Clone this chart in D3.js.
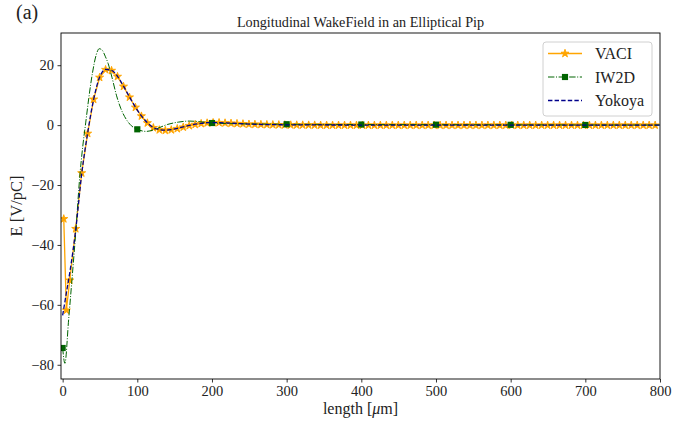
<!DOCTYPE html>
<html>
<head>
<meta charset="utf-8">
<script src="https://cdn.jsdelivr.net/npm/d3@7"></script>
<style>
  body { margin: 0; background: #fff; }
  text { font-family: "Liberation Serif", "Times New Roman", serif; fill: #222; }
</style>
</head>
<body>
<div id="chart"></div>
<script>
var width = 674,
    height = 422;

var margin = {left: 61, right: 14, top: 33, bottom: 43};

// VACI (star markers, solid)
var vaciX = [1.5, 5, 9.5, 17.5, 25.5, 33.5, 41.5, 49.5, 57.5, 65.5,
  73.5, 81.5, 89.5, 97.5, 105.5, 113.5, 121.5, 129.5, 137.5, 145.5,
  153.5, 161.5, 169.5, 177.5, 185.5, 193.5, 201.5, 209.5, 217.5, 225.5,
  233.5, 241.5, 249.5, 257.5, 265.5, 273.5, 281.5, 289.5, 297.5, 305.5,
  313.5, 321.5, 329.5, 337.5, 345.5, 353.5, 361.5, 369.5, 377.5, 385.5,
  393.5, 401.5, 409.5, 417.5, 425.5, 433.5, 441.5, 449.5, 457.5, 465.5,
  473.5, 481.5, 489.5, 497.5, 505.5, 513.5, 521.5, 529.5, 537.5, 545.5,
  553.5, 561.5, 569.5, 577.5, 585.5, 593.5, 601.5, 609.5, 617.5, 625.5,
  633.5, 641.5, 649.5, 657.5, 665.5, 673.5, 681.5, 689.5, 697.5, 705.5,
  713.5, 721.5, 729.5, 737.5, 745.5, 753.5, 761.5, 769.5, 777.5, 785.5,
  793.5];
var vaciY = [-31.3, -61.8, -51.8, -34.6, -16.0, -2.8, 8.6, 15.9, 18.5, 18.2,
  16.2, 12.9, 9.3, 5.9, 3.0, 0.7, -0.9, -1.6, -1.8, -1.6,
  -1.2, -0.7, -0.2, 0.2, 0.5, 0.7, 0.8, 0.8, 0.7, 0.6,
  0.5, 0.4, 0.3, 0.25, 0.2, 0.15, 0.1, 0.08, 0.05, 0.03,
  0.02, 0.01, 0, 0, -0.05, -0.05, -0.05, -0.05, -0.05, -0.05,
  -0.05, -0.05, -0.05, -0.05, -0.05, -0.05, -0.05, -0.05, -0.05, -0.05,
  -0.05, -0.05, -0.05, -0.05, -0.05, -0.05, -0.05, -0.05, -0.05, -0.05,
  -0.05, -0.05, -0.05, -0.05, -0.05, -0.05, -0.05, -0.05, -0.05, -0.05,
  -0.05, -0.05, -0.05, -0.05, -0.05, -0.05, -0.05, -0.05, -0.05, -0.05,
  -0.05, -0.05, -0.05, -0.05, -0.05, -0.05, -0.05, -0.05, -0.05, -0.05,
  -0.05];

// IW2D (square markers every 100 um, dash-dot)
var iw2dX = [0, 3, 8, 13, 17.5, 23, 27, 31, 35, 40, 45, 49, 53, 57, 61, 66, 72, 78, 85, 92,
  100, 112, 125, 140, 155, 170, 185, 200, 250, 300, 400, 500, 600, 700, 800];
var iw2dY = [-74.4, -79.5, -65, -50, -36, -17, -7, 1, 9, 17.5, 23.5, 25.5, 25, 23, 20.5, 16, 10, 5.5, 2, -0.2,
  -1.4, -2.1, -1.3, 0.2, 1.0, 1.35, 1.1, 0.7, 0.4, 0.3, 0.2, 0.15, 0.1, 0.05, 0.03];
var iw2dMarkX = [0, 100, 200, 300, 400, 500, 600, 700];

// Yokoya (dashed)
var yokoX = [0, 5, 10, 17.5, 25.5, 33.5, 41.5, 49.5, 57.5, 65.5, 73.5, 81.5, 89.5, 97.5,
  105.5, 113.5, 121.5, 129.5, 137.5, 145.5, 153.5, 161.5, 169.5, 177.5, 185.5, 193.5,
  201.5, 217.5, 233.5, 249.5, 270, 300, 350, 400, 500, 600, 700, 800];
var yokoY = [-63.5, -56, -48.5, -35, -16.3, -2.6, 8.6, 16, 18.6, 18.3, 16.3, 13, 9.4, 6,
  3.1, 0.8, -0.8, -1.5, -1.7, -1.5, -1.1, -0.6, -0.1, 0.3, 0.6, 0.8,
  0.85, 0.75, 0.55, 0.35, 0.2, 0.1, 0.05, 0.02, 0.01, 0, 0, 0];

var xTicks = [0, 100, 200, 300, 400, 500, 600, 700, 800];
var yTicks = [-80, -60, -40, -20, 0, 20];
var seriesNames = ['VACI', 'IW2D', 'Yokoya'];
var seriesColors = ['#ffa500', '#006400', '#00008b'];

var svg = d3.select("#chart").append("svg")
    .attr("width", width)
    .attr("height", height);

var x = d3.scaleLinear()
    .domain([-2.2, 800])
    .range([margin.left, width - margin.right]);
var y = d3.scaleLinear()
    .domain([-84.75, 30.75])
    .range([height - margin.bottom, margin.top]);

svg.append("clipPath").attr("id", "plot-clip")
  .append("rect")
    .attr("x", margin.left)
    .attr("y", margin.top)
    .attr("width", width - margin.left - margin.right)
    .attr("height", height - margin.top - margin.bottom);

var plot = svg.append("g").attr("clip-path", "url(#plot-clip)");

var lineLin = d3.line()
    .x(function(d) { return x(d[0]); })
    .y(function(d) { return y(d[1]); });
var lineSmooth = d3.line()
    .curve(d3.curveMonotoneX)
    .x(function(d) { return x(d[0]); })
    .y(function(d) { return y(d[1]); });

var vaci = d3.zip(vaciX, vaciY),
    iw2d = d3.zip(iw2dX, iw2dY),
    yoko = d3.zip(yokoX, yokoY);

var star = d3.symbol().type(d3.symbolStar).size(20);
var square = d3.symbol().type(d3.symbolSquare).size(38);

// VACI
plot.append("path")
    .attr("d", lineLin(vaci))
    .attr("fill", "none")
    .attr("stroke", seriesColors[0])
    .attr("stroke-width", 1.3);
plot.selectAll(".vaci-mark")
    .data(vaci)
  .enter().append("path")
    .attr("class", "vaci-mark")
    .attr("transform", function(d) { return "translate(" + x(d[0]) + "," + y(d[1]) + ")"; })
    .attr("d", star)
    .attr("fill", seriesColors[0])
    .attr("stroke", seriesColors[0])
    .attr("stroke-width", 0.9)
    .attr("stroke-linejoin", "round");

// IW2D
plot.append("path")
    .attr("d", lineSmooth(iw2d))
    .attr("fill", "none")
    .attr("stroke", seriesColors[1])
    .attr("stroke-width", 1)
    .attr("stroke-dasharray", "6.4,1.6,1,1.6");
plot.selectAll(".iw2d-mark")
    .data(iw2d.filter(function(d) { return iw2dMarkX.indexOf(d[0]) >= 0; }))
  .enter().append("path")
    .attr("class", "iw2d-mark")
    .attr("transform", function(d) { return "translate(" + x(d[0]) + "," + y(d[1]) + ")"; })
    .attr("d", square)
    .attr("fill", seriesColors[1]);

// Yokoya
plot.append("path")
    .attr("d", lineSmooth(yoko))
    .attr("fill", "none")
    .attr("stroke", seriesColors[2])
    .attr("stroke-width", 1.3)
    .attr("stroke-dasharray", "4.4,2.2");

// axes
var xAxis = svg.append("g")
    .attr("transform", "translate(0," + (height - margin.bottom) + ")")
    .call(d3.axisBottom(x).tickValues(xTicks).tickSize(3.5).tickPadding(3.5).tickFormat(d3.format("d")));
var yAxis = svg.append("g")
    .attr("transform", "translate(" + margin.left + ",0)")
    .call(d3.axisLeft(y).tickValues(yTicks).tickSize(3.5).tickPadding(3.5).tickFormat(d3.format("d")));

[xAxis, yAxis].forEach(function(a) {
  a.attr("font-family", null);
  a.select(".domain").remove();
  a.selectAll("line").attr("stroke", "#000").attr("stroke-width", 0.8);
  a.selectAll("text")
    .style("font-family", "'Liberation Serif', 'Times New Roman', serif")
    .style("font-size", "14.5px")
    .attr("fill", "#222");
});

svg.append("rect")
    .attr("x", margin.left)
    .attr("y", margin.top)
    .attr("width", width - margin.left - margin.right)
    .attr("height", height - margin.top - margin.bottom)
    .attr("fill", "none")
    .attr("stroke", "#000")
    .attr("stroke-width", 0.9);

// labels
svg.append("text")
    .attr("x", (margin.left + width - margin.right) / 2)
    .attr("y", 27)
    .attr("text-anchor", "middle")
    .style("font-size", "14.2px")
    .text("Longitudinal WakeField in an Elliptical Pip");

svg.append("text")
    .attr("x", 16)
    .attr("y", 19)
    .style("font-size", "20px")
    .text("(a)");

var xl = svg.append("text")
    .attr("x", (margin.left + width - margin.right) / 2)
    .attr("y", 413.5)
    .attr("text-anchor", "middle")
    .style("font-size", "16px");
xl.append("tspan").text("length [");
xl.append("tspan").style("font-style", "italic").text("\u03bc");
xl.append("tspan").text("m]");

svg.append("text")
    .attr("transform", "translate(22," + (y(-27)) + ") rotate(-90)")
    .attr("text-anchor", "middle")
    .style("font-size", "16.5px")
    .text("E [V/pC]");

// legend
var legend = svg.append("g").attr("transform", "translate(543,42)");
legend.append("rect")
    .attr("width", 109)
    .attr("height", 74)
    .attr("rx", 3)
    .attr("fill", "#fff")
    .attr("fill-opacity", 0.8)
    .attr("stroke", "#d0d0d0")
    .attr("stroke-width", 1);

var entry = legend.selectAll(".entry")
    .data(seriesNames)
  .enter().append("g")
    .attr("class", "entry")
    .attr("transform", function(d, i) { return "translate(0," + (11.5 + i * 23.5) + ")"; });

entry.append("line")
    .attr("x1", 5).attr("x2", 39)
    .attr("stroke", function(d, i) { return seriesColors[i]; })
    .attr("stroke-width", function(d, i) { return [1.3, 1, 1.3][i]; })
    .attr("stroke-dasharray", function(d, i) { return [null, "6.4,1.6,1,1.6", "4.4,2.2"][i]; });

entry.filter(function(d, i) { return i < 2; })
  .append("path")
    .attr("transform", "translate(22,0)")
    .attr("d", function(d, i) { return i === 0 ? star() : square(); })
    .attr("fill", function(d, i) { return seriesColors[i]; })
    .attr("stroke", function(d, i) { return i === 0 ? seriesColors[0] : null; })
    .attr("stroke-width", 0.9)
    .attr("stroke-linejoin", "round");

entry.append("text")
    .attr("x", 52)
    .attr("dy", "0.35em")
    .style("font-size", "16px")
    .text(function(d) { return d; });
</script>
</body>
</html>
